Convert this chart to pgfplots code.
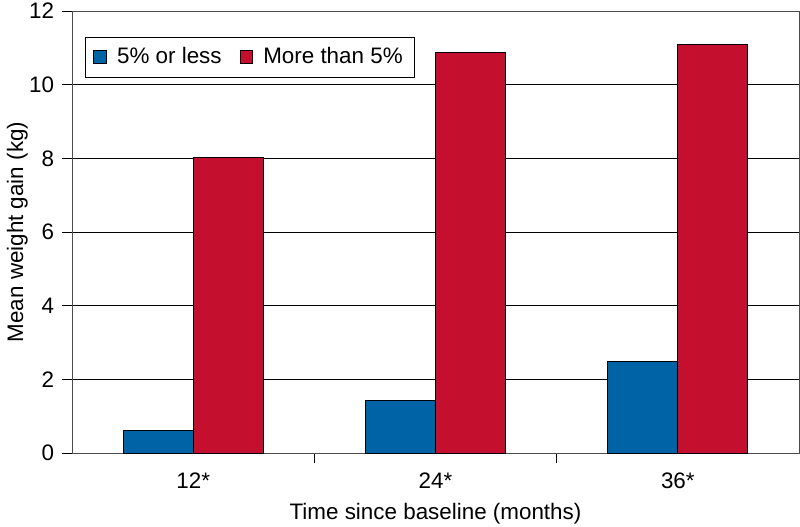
\documentclass[border=0pt]{standalone}
\usepackage{fontspec}
\setmainfont{Liberation Sans}
\usepackage{pgfplots}
\pgfplotsset{compat=1.18}
\definecolor{barblue}{RGB}{0,99,166}
\definecolor{barred}{RGB}{196,15,46}
\newcommand{\fs}{\fontsize{11.2pt}{13pt}\selectfont}
\begin{document}
\fs
\begin{tikzpicture}
\begin{axis}[
  scale only axis,
  width=363.5pt, height=221pt,
  xmin=-0.5, xmax=2.5,
  ymin=0, ymax=12,
  ytick={0,2,4,6,8,10,12},
  xtick={0,1,2},
  xticklabels={12*,24*,36*},
  minor xtick={0.5,1.5},
  xtick pos=bottom, ytick pos=left,
  major x tick style={draw=none},
  minor x tick style={black, thin},
  tick align=outside,
  major tick length=5pt,
  minor tick length=5pt,
  ymajorgrids,
  grid style={black, thin},
  axis line style={black!70, thin},
  y tick style={black, thin},
  ybar=0pt,
  bar width=35pt,
  /pgf/number format/assume math mode=true,
  tick label style={font=\fs},
  label style={font=\fs},
  xlabel={Time since baseline (months)},
  ylabel={Mean weight gain (kg)},
  xticklabel style={yshift=-1pt},
  xlabel style={yshift=0.5pt},
  ylabel style={yshift=-7pt},
  legend columns=2,
  legend style={at={(0.018,0.941)}, anchor=north west, draw=black, thin,
    font=\fs,
    /tikz/every odd column/.append style={column sep=3pt},
    /tikz/every even column/.append style={column sep=7pt},
    inner xsep=4pt, inner ysep=3pt},
  legend image code/.code={\draw[#1, draw=black, thin] (0pt,-3.2pt) rectangle (6.4pt,3.2pt);},
]
\addplot[fill=barblue, draw=black, thin] coordinates {(0,0.62) (1,1.42) (2,2.49)};
\addplot[fill=barred, draw=black, thin] coordinates {(0,8.03) (1,10.87) (2,11.09)};
\legend{5\% or less, More than 5\%}
\end{axis}
\pgfresetboundingbox
\useasboundingbox ([xshift=-36pt,yshift=-36.5pt]current axis.south west) rectangle ([xshift=0.5pt,yshift=5.5pt]current axis.north east);
\end{tikzpicture}
\end{document}
